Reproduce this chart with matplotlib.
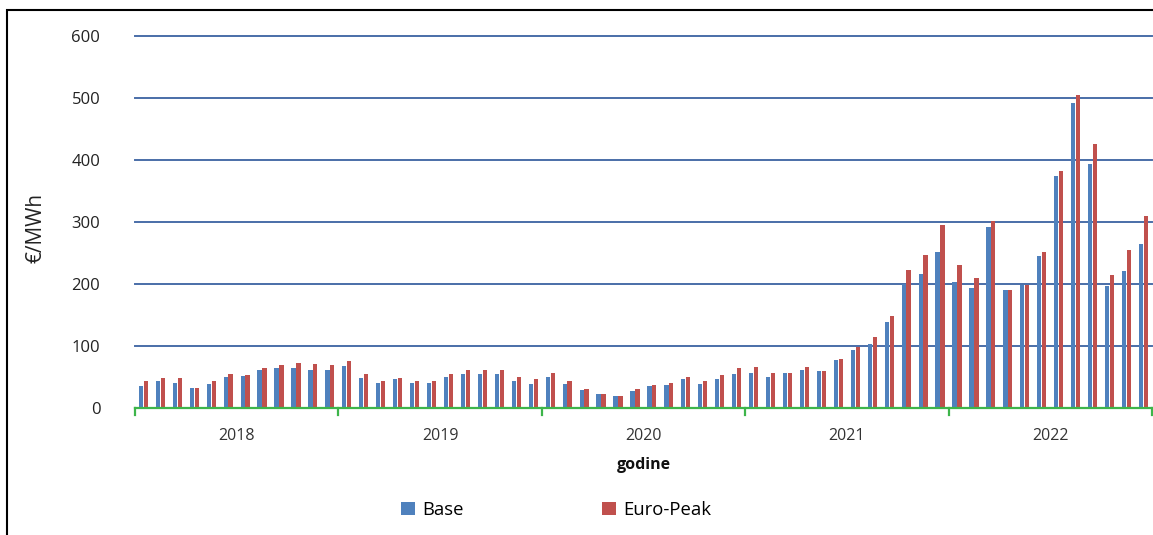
import matplotlib.pyplot as plt
import matplotlib.transforms as mtransforms
from matplotlib.patches import Rectangle
import numpy as np

years = ['2018', '2019', '2020', '2021', '2022']

# monthly prices, EUR/MWh, Jan 2018 - Dec 2022
base = [36, 43, 41, 32, 39, 50, 52, 61, 64, 64, 62, 62,
        68, 49, 40, 46, 41, 40, 50, 55, 55, 55, 43, 38,
        50, 38, 29, 23, 20, 28, 35, 37, 46, 38, 46, 55,
        57, 50, 56, 62, 59, 78, 93, 104, 138, 200, 216, 252,
        204, 194, 292, 191, 199, 245, 374, 492, 394, 196, 221, 264]
peak = [44, 49, 49, 32, 44, 55, 53, 65, 70, 73, 71, 70,
        76, 55, 43, 49, 43, 43, 55, 62, 61, 62, 50, 46,
        56, 43, 31, 23, 20, 30, 37, 40, 50, 43, 53, 65,
        66, 57, 57, 66, 59, 79, 99, 115, 148, 222, 246, 295,
        231, 209, 302, 190, 199, 251, 383, 505, 426, 215, 255, 309]

plt.rcParams['font.family'] = ['Open Sans', 'DejaVu Sans']

fig = plt.figure(figsize=(11.53, 5.35), dpi=100)
ax = fig.add_axes([135 / 1153, 1 - 408 / 535, 1017 / 1153, 372 / 535])

x = np.arange(len(base))
w = 0.25
ax.bar(x - 0.15, base, width=w, color='#4F81BD', label='Base', zorder=3)
ax.bar(x + 0.14, peak, width=w, color='#C0504D', label='Euro-Peak', zorder=3)

ax.set_xlim(-0.5, len(base) - 0.5)
ax.set_ylim(0, 600)
ax.set_yticks(range(0, 601, 100))
ax.tick_params(axis='y', length=0, labelsize=12, pad=25, labelcolor='#222222')
ax.grid(axis='y', color='#4A6EA8', linewidth=1.4, zorder=0)
for gl in ax.get_ygridlines():
    gl.set_clip_on(False)
ax.set_xticks([])
for s in ['top', 'right', 'left']:
    ax.spines[s].set_visible(False)
ax.spines['bottom'].set_color('#3DB54A')
ax.spines['bottom'].set_linewidth(1.6)
ax.spines['bottom'].set_zorder(4)

# year separator ticks and labels
trans = mtransforms.blended_transform_factory(ax.transData, ax.transAxes)
for i in range(len(years) + 1):
    ax.plot([i * 12 - 0.5] * 2, [0, -0.02], color='#3DB54A', lw=1.6,
            transform=trans, clip_on=False, zorder=4)
for i, yr in enumerate(years):
    ax.text(i * 12 + 5.5, -0.075, yr, transform=trans, ha='center', va='center',
            fontsize=11.5, color='#333333')
ax.text(0.5, -0.153, 'godine', transform=ax.transAxes, ha='center', va='center',
        fontsize=11.5, fontweight='bold', color='#111111')

fig.text(36 / 1153, 1 - 228 / 535, '€/MWh', rotation=90, ha='center', va='center',
         fontsize=15, color='#222222')

fig.legend(loc='center', bbox_to_anchor=(556 / 1153, 1 - 510 / 535), ncol=2,
           frameon=False, fontsize=13.3, columnspacing=7.5, handlelength=0.75,
           handleheight=0.75, handletextpad=0.4)

# outer frame
fig.patches.append(Rectangle((7 / 1153, -0.1), 1.2, 1 - 10 / 535 + 0.1,
                             transform=fig.transFigure, fill=False,
                             edgecolor='black', linewidth=1.5))

fig.savefig('out.png', dpi=100)
